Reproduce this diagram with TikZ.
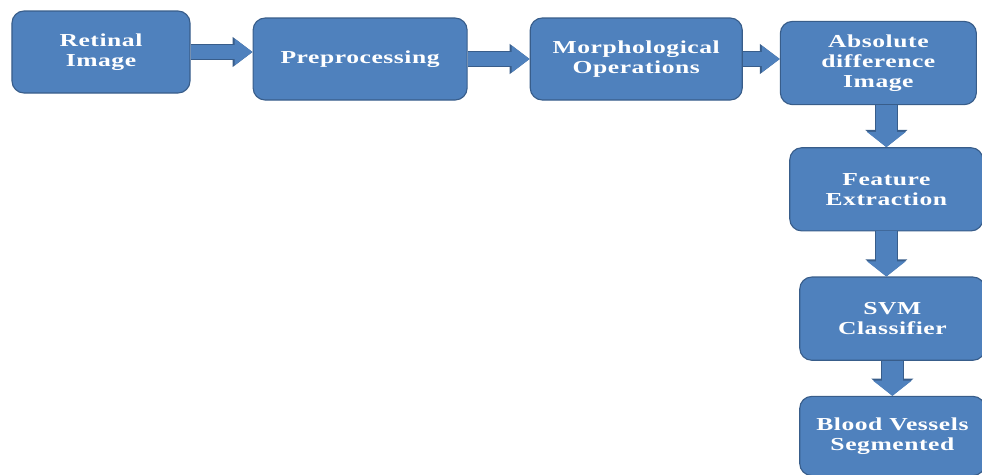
\documentclass[tikz,border=0pt]{standalone}
\usepackage{fontspec}
\setmainfont{Liberation Serif}
\newfontfamily\flowfont[FakeStretch=1.4,LetterSpace=3]{Liberation Serif}
\usetikzlibrary{arrows.meta, positioning}
\definecolor{boxblue}{RGB}{79,129,189}
\definecolor{boxedge}{RGB}{56,93,138}
\tikzset{
    block/.style={rectangle, rounded corners=0.3cm, draw=boxedge, fill=boxblue, thick, text=white, align=center, inner sep=0pt, font=\flowfont\bfseries\fontsize{13}{14}\selectfont},
    hflow/.style={draw=boxblue, line width=0.33cm, -{Triangle[length=0.45cm, width=0.64cm]}, preaction={draw=boxedge, line width=0.38cm, -{Triangle[length=0.5cm, width=0.72cm]}}},
    vflow/.style={draw=boxblue, line width=0.52cm, -{Triangle[length=0.38cm, width=0.95cm]}, preaction={draw=boxedge, line width=0.57cm, -{Triangle[length=0.43cm, width=1.03cm]}}},
}
\begin{document}
\begin{tikzpicture}
    \useasboundingbox (0,0) rectangle (24.55,-11.85);
    % Nodes
    \node[block, minimum width=4.45cm, minimum height=2.05cm] (ret) at (2.525,-1.3) {Retinal\\Image};
    \node[block, minimum width=5.35cm, minimum height=2.05cm, right=1.55cm of ret, yshift=-0.175cm] (pre) {Preprocessing};
    \node[block, minimum width=5.3cm, minimum height=2.05cm, right=1.55cm of pre] (mor) {Morphological\\Operations};
    \node[block, minimum width=4.9cm, minimum height=2.08cm, right=0.925cm of mor, yshift=-0.1cm] (abs) {Absolute\\difference\\Image};
    \node[block, minimum width=4.83cm, minimum height=2.08cm, below=1.05cm of abs, xshift=0.2cm] (fea) {Feature\\Extraction};
    \node[block, minimum width=4.63cm, minimum height=2.08cm, below=1.125cm of fea, xshift=0.15cm] (svm) {SVM\\Classifier};
    \node[block, minimum width=4.63cm, minimum height=1.98cm, below=0.875cm of svm] (blo) {Blood Vessels\\Segmented};

    % Arrows
    \draw[hflow] (ret.east) -- (ret.east -| pre.west);
    \draw[hflow] (pre.east) -- (pre.east -| mor.west);
    \draw[hflow] (mor.east) -- (mor.east -| abs.west);
    \draw[vflow] (fea.north |- abs.south) -- (fea.north);
    \draw[vflow] (fea.south) -- (fea.south |- svm.north);
    \draw[vflow] (svm.south) -- (blo.north);
\end{tikzpicture}
\end{document}
